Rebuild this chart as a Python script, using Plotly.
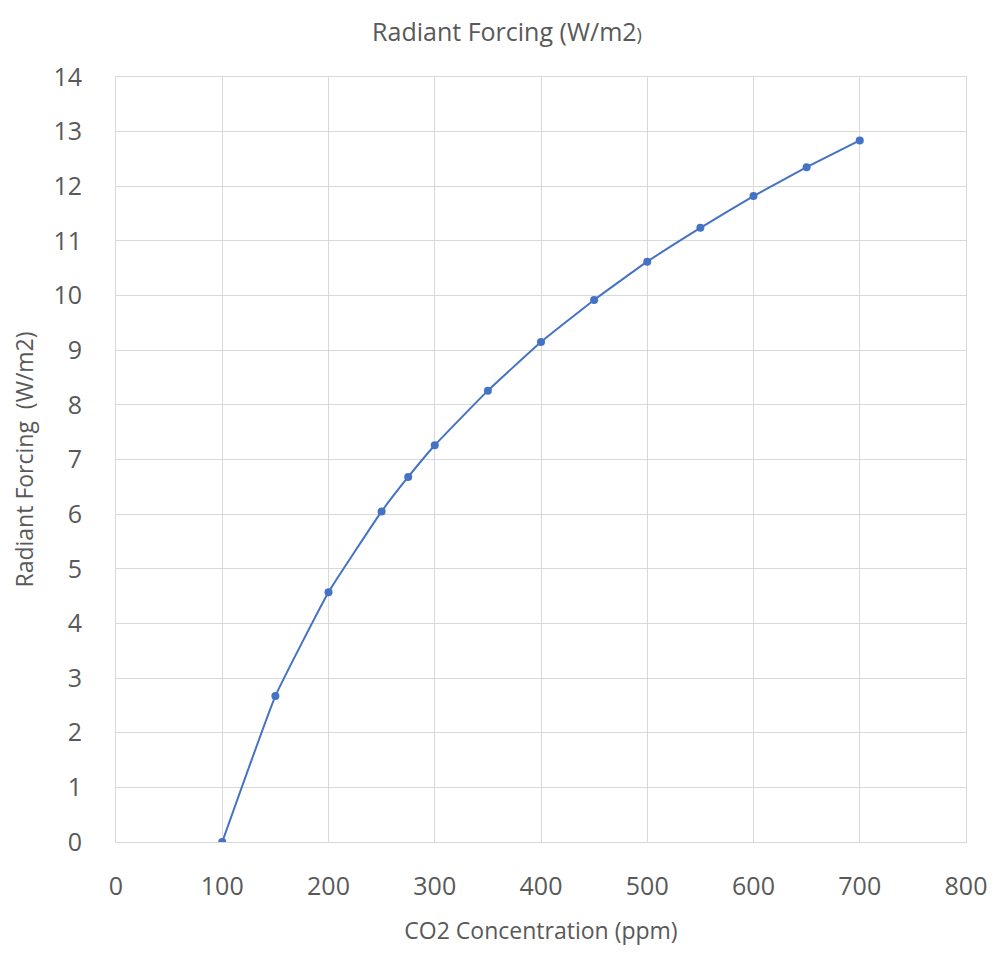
import plotly.graph_objects as go

co2_ppm = [100, 150, 200, 250, 275, 300, 350, 400, 450, 500, 550, 600, 650, 700]
forcing = [0.0, 2.67, 4.57, 6.05, 6.68, 7.26, 8.26, 9.15, 9.92, 10.62, 11.24, 11.82, 12.35, 12.84]

x_ticks = [0, 100, 200, 300, 400, 500, 600, 700, 800]
y_ticks = list(range(0, 15))

FONT = "Open Sans"
GRAY = "#595959"
GRID = "#d9d9d9"

fig = go.Figure()
fig.add_trace(go.Scatter(
    x=co2_ppm, y=forcing, mode="lines+markers",
    line=dict(color="#4472C4", width=2, shape="spline", smoothing=0.35),
    marker=dict(color="#4472C4", size=8),
    showlegend=False,
))

fig.update_layout(
    width=1000, height=955,
    paper_bgcolor="white", plot_bgcolor="white",
    margin=dict(l=108, r=42, t=69, b=121),
    title=dict(text="Radiant Forcing (W/m2<span style='font-size:18px'>)</span>",
               x=(507 - 8) / 1000, xanchor="center", y=1 - 24 / 955, yanchor="middle",
               font=dict(family=FONT, size=25, color=GRAY)),
    font=dict(family=FONT, color=GRAY),
)
fig.update_xaxes(
    range=[0, 800], tickvals=x_ticks, showgrid=True, gridcolor=GRID, gridwidth=1,
    showline=True, linecolor=GRID, mirror=True, zeroline=False, ticks="",
    tickfont=dict(family=FONT, size=25, color=GRAY), ticklabelstandoff=22,
    title=dict(text="CO2 Concentration (ppm)", font=dict(family=FONT, size=23, color=GRAY), standoff=21),
)
fig.update_yaxes(
    range=[0, 14], tickvals=y_ticks, showgrid=True, gridcolor=GRID, gridwidth=1,
    showline=True, linecolor=GRID, mirror=True, zeroline=False, ticks="",
    tickfont=dict(family=FONT, size=25, color=GRAY), ticklabelstandoff=28,
    title=dict(text="Radiant Forcing&nbsp;&nbsp;(W/m2)", font=dict(family=FONT, size=23, color=GRAY), standoff=18),
)

fig.write_html("out.html")
